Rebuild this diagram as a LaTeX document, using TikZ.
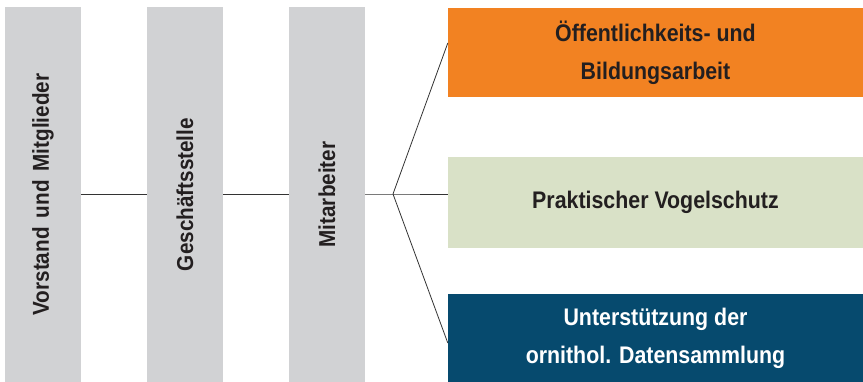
\documentclass[tikz,border=0pt]{standalone}
\usepackage{fontspec}
\setmainfont{Liberation Sans}
\newfontfamily\condfont[FakeStretch=0.89]{Liberation Sans}
\newfontfamily\barfont[FakeStretch=0.9]{Liberation Sans}
\usetikzlibrary{calc}
\definecolor{bargray}{HTML}{D1D2D4}
\definecolor{boxorange}{HTML}{F28222}
\definecolor{boxgreen}{HTML}{D9E1C7}
\definecolor{boxblue}{HTML}{064A6E}
\definecolor{txt}{HTML}{231F20}
\definecolor{linec}{HTML}{333333}
\newcommand{\wsp}{\hspace{9pt}}
\tikzset{
  bar/.style={fill=bargray, draw=none, inner sep=0pt, minimum width=76pt, minimum height=375pt,
    text=txt, font=\barfont\fontsize{23}{25}\selectfont\bfseries},
  rbox/.style={draw=none, inner sep=0pt, minimum width=415pt, align=center,
    font=\condfont\fontsize{24}{38}\selectfont\bfseries},
  conn/.style={draw=linec, line width=0.8pt}
}
\begin{document}
\begin{tikzpicture}[x=1pt,y=-1pt]
\useasboundingbox (0,0) rectangle (863,382);
\node[bar] (b1) at (43,194.5) {\rotatebox{90}{Vorstand\wsp und\wsp Mitglieder}};
\node[bar] (b2) at (185,194.5) {\rotatebox{90}{Geschäftsstelle}};
\node[bar] (b3) at (327,194.5) {\rotatebox{90}{Mitarbeiter}};
\node[rbox, fill=boxorange, minimum height=89pt, text=txt] (o) at (655.5,52.5) {Öffentlichkeits- und\\Bildungsarbeit};
\node[rbox, fill=boxgreen, minimum height=91pt, text=txt] (g) at (655.5,202.5) {Praktischer Vogelschutz};
\node[rbox, fill=boxblue, minimum height=88pt, text=white] (u) at (655.5,338) {Unterstützung der\\ornithol. Datensammlung};
\coordinate (j) at (393,194);
\draw[conn] (b1.east |- j) -- (b2.west |- j);
\draw[conn] (b2.east |- j) -- (b3.west |- j);
\draw[conn] (b3.east |- j) -- (j) -- (g.west |- j);
\draw[conn] ([yshift=9.5pt]o.west) -- (j) -- ([yshift=-5pt]u.west);
\end{tikzpicture}
\end{document}
